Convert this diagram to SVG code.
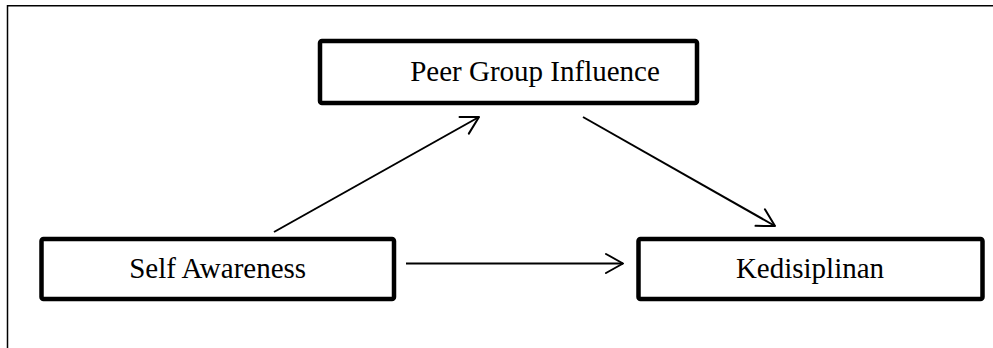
<svg xmlns="http://www.w3.org/2000/svg" width="993" height="348" viewBox="0 0 993 348">
  <style>
    .box { fill: #ffffff; stroke: #000000; stroke-width: 4.5; }
    .lbl { font-family: "Liberation Serif", "Times New Roman", serif; font-size: 29px; fill: #000000; text-anchor: middle; }
    .edge { stroke: #000000; stroke-width: 2; fill: none; }
    .frame { stroke: #000000; stroke-width: 1.5; fill: none; }
  </style>
  <defs>
    <marker id="arr" markerUnits="userSpaceOnUse" markerWidth="24" markerHeight="24" viewBox="-20 -12 24 24" refX="0" refY="0" orient="auto">
      <path d="M-17,-9.5 L0,0 L-17,9.5" fill="none" stroke="#000" stroke-width="2" stroke-linecap="round" stroke-linejoin="round"/>
    </marker>
  </defs>
  <rect width="993" height="348" fill="#ffffff"/>
  <path class="frame" d="M7.5,348 L7.5,5.8 L993,5.8"/>

  <g id="node-peer">
    <rect class="box" x="320" y="41" width="377" height="62" rx="2"/>
    <text class="lbl" x="535" y="81">Peer Group Influence</text>
  </g>
  <g id="node-self">
    <rect class="box" x="41.5" y="239" width="352.5" height="60" rx="2"/>
    <text class="lbl" x="217.7" y="278">Self Awareness</text>
  </g>
  <g id="node-ked">
    <rect class="box" x="638.5" y="239" width="344" height="60" rx="2"/>
    <text class="lbl" x="810" y="278">Kedisiplinan</text>
  </g>

  <g id="connectors">
    <line class="edge" x1="274" y1="232" x2="479" y2="117" marker-end="url(#arr)"/>
    <line class="edge" x1="583" y1="117" x2="775" y2="226" marker-end="url(#arr)"/>
    <line class="edge" x1="406" y1="263.5" x2="623" y2="263.5" marker-end="url(#arr)"/>
  </g>
</svg>
